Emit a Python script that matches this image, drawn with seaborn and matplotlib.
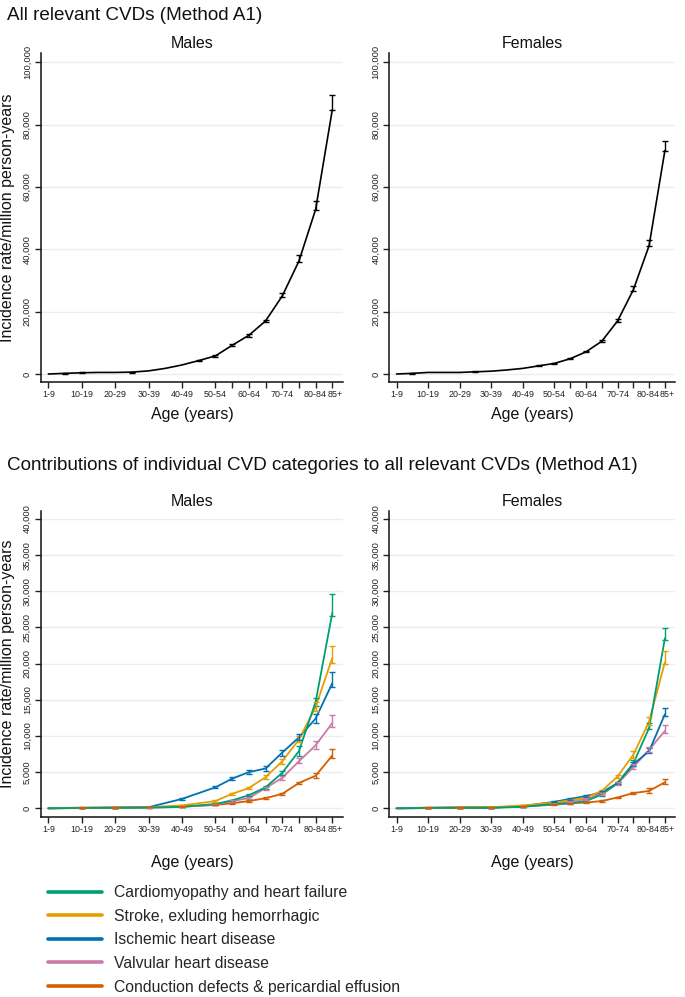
import numpy as np
import pandas as pd
import matplotlib
matplotlib.use("Agg")
import matplotlib.pyplot as plt
import matplotlib.transforms as mtransforms
import seaborn as sns
from matplotlib.ticker import FuncFormatter
from matplotlib.lines import Line2D

nan = np.nan

# ---------------- data ----------------
# x-axis ticks (age groups)
tick_pos = [0, 10, 20, 30, 40, 50, 55, 60, 65, 70, 75, 80, 85]
tick_labels = ["1-9", "10-19", "20-29", "30-39", "40-49", "50-54", "",
               "60-64", "", "70-74", "", "80-84", "85+"]

# Top panels: all relevant CVDs (5-year points)
top_age = [0, 5, 10, 15, 20, 25, 30, 35, 40, 45, 50, 55, 60, 65, 70, 75, 80, 85]
top_m_est = [0, 200, 400, 500, 500, 600, 1000, 1800, 2900, 4300, 5800, 9200, 12400, 17000, 25000, 36200, 52800, 84800]
top_m_lo = [nan, 100, 300, nan, nan, 450, nan, nan, nan, 4100, 5600, 8900, 12000, 16600, 24600, 36000, 52600, 84600]
top_m_hi = [nan, 300, 500, nan, nan, 750, nan, nan, nan, 4500, 6100, 9600, 12800, 17400, 26000, 38100, 55500, 89400]
top_f_est = [0, 200, 500, 500, 500, 700, 900, 1300, 1800, 2600, 3400, 4900, 7100, 10500, 17000, 27000, 41200, 71700]
top_f_lo = [nan, 100, nan, nan, nan, 550, nan, nan, nan, 2450, 3250, 4700, 6900, 10200, 16600, 26700, 41100, 71600]
top_f_hi = [nan, 300, nan, nan, nan, 850, nan, nan, nan, 2750, 3550, 5100, 7300, 10900, 17500, 28300, 42900, 74700]

# Bottom panels: individual CVD categories
bot_age = [0, 10, 20, 30, 40, 50, 55, 60, 65, 70, 75, 80, 85]
categories = ["Cardiomyopathy and heart failure", "Stroke, exluding hemorrhagic",
              "Ischemic heart disease", "Valvular heart disease",
              "Conduction defects & pericardial effusion"]
colors = ["#009E73", "#E69F00", "#0072B2", "#CC79A7", "#D55E00"]

m_cardio_est = [0, 50, 80, 100, 200, 600, 1100, 1800, 2900, 4900, 7900, 14700, 27000]
m_cardio_lo = [nan, 30, 50, 70, 150, 520, 1000, 1650, 2700, 4600, 7300, 14200, 26600]
m_cardio_hi = [nan, 70, 110, 130, 250, 680, 1200, 1950, 3100, 5200, 8600, 15300, 29600]
m_stroke_est = [0, 50, 100, 150, 400, 1000, 2000, 2800, 4300, 6500, 9500, 14000, 20800]
m_stroke_lo = [nan, 30, 70, 120, 330, 900, 1850, 2650, 4050, 6150, 9100, 13400, 20100]
m_stroke_hi = [nan, 70, 130, 180, 470, 1100, 2150, 2950, 4550, 6850, 10000, 14700, 22500]
m_ihd_est = [0, 50, 80, 150, 1300, 2900, 4100, 5000, 5500, 7700, 9800, 12400, 17300]
m_ihd_lo = [nan, 30, 60, 120, 1200, 2800, 3900, 4700, 5200, 7300, 9400, 11800, 16800]
m_ihd_hi = [nan, 70, 100, 180, 1400, 3050, 4350, 5300, 5900, 8100, 10300, 13100, 18800]
m_valv_est = [0, 30, 50, 80, 200, 500, 1000, 1400, 2800, 4200, 6500, 8700, 11800]
m_valv_lo = [nan, 20, 30, 60, 150, 430, 900, 1250, 2600, 3950, 6200, 8200, 11300]
m_valv_hi = [nan, 40, 70, 100, 250, 570, 1100, 1550, 3000, 4450, 6900, 9300, 12900]
m_cond_est = [0, 100, 120, 150, 250, 450, 700, 1000, 1400, 2000, 3500, 4500, 7300]
m_cond_lo = [nan, 70, 90, 120, 200, 400, 620, 900, 1280, 1850, 3300, 4200, 6900]
m_cond_hi = [nan, 130, 150, 180, 300, 500, 780, 1100, 1520, 2150, 3700, 4900, 8200]

f_cardio_est = [0, 50, 80, 80, 200, 600, 700, 1000, 1900, 3500, 6200, 11100, 23500]
f_cardio_lo = [nan, 30, 50, 50, 150, 530, 620, 900, 1750, 3300, 5900, 10900, 23300]
f_cardio_hi = [nan, 70, 110, 110, 250, 670, 780, 1100, 2050, 3700, 6700, 11800, 24900]
f_stroke_est = [0, 50, 100, 150, 400, 800, 1100, 1500, 2400, 4400, 7400, 12000, 20200]
f_stroke_lo = [nan, 30, 70, 120, 340, 720, 1000, 1380, 2250, 4150, 7000, 11500, 20000]
f_stroke_hi = [nan, 70, 130, 180, 460, 880, 1200, 1620, 2550, 4650, 7900, 12600, 21700]
f_ihd_est = [0, 30, 50, 80, 300, 900, 1300, 1700, 2200, 3500, 6100, 7900, 13000]
f_ihd_lo = [nan, 20, 30, 60, 250, 820, 1200, 1550, 2050, 3300, 5800, 7600, 12800]
f_ihd_hi = [nan, 40, 70, 100, 350, 980, 1400, 1850, 2350, 3700, 6400, 8300, 13900]
f_valv_est = [0, 30, 50, 80, 250, 600, 900, 1300, 2000, 3400, 5700, 8100, 10700]
f_valv_lo = [nan, 20, 30, 60, 200, 540, 820, 1180, 1850, 3200, 5400, 7800, 10400]
f_valv_hi = [nan, 40, 70, 100, 300, 660, 980, 1420, 2150, 3600, 6100, 8500, 11500]
f_cond_est = [0, 100, 150, 150, 250, 500, 700, 800, 1000, 1500, 2100, 2400, 3600]
f_cond_lo = [nan, 70, 110, 110, 200, 450, 640, 730, 920, 1400, 1950, 2150, 3400]
f_cond_hi = [nan, 130, 190, 190, 300, 550, 760, 870, 1080, 1600, 2300, 2750, 4000]

males_series = [(m_cardio_est, m_cardio_lo, m_cardio_hi), (m_stroke_est, m_stroke_lo, m_stroke_hi),
                (m_ihd_est, m_ihd_lo, m_ihd_hi), (m_valv_est, m_valv_lo, m_valv_hi),
                (m_cond_est, m_cond_lo, m_cond_hi)]
females_series = [(f_cardio_est, f_cardio_lo, f_cardio_hi), (f_stroke_est, f_stroke_lo, f_stroke_hi),
                  (f_ihd_est, f_ihd_lo, f_ihd_hi), (f_valv_est, f_valv_lo, f_valv_hi),
                  (f_cond_est, f_cond_lo, f_cond_hi)]

# ---------------- style ----------------
sns.set_theme(style="white")
plt.rcParams['font.family'] = ['Liberation Sans', 'DejaVu Sans']

W, H = 685, 997
fig = plt.figure(figsize=(W / 100, H / 100), dpi=100)


def add_ax(l, t, r, b):
    return fig.add_axes([l / W, 1 - b / H, (r - l) / W, (b - t) / H])


def style(ax, yticks, ylim, title):
    ax.set_xlim(-2.3, 88.2)
    ax.set_ylim(*ylim)
    ax.set_xticks(tick_pos)
    ax.set_xticklabels(tick_labels)
    ax.set_yticks(yticks)
    ax.yaxis.set_major_formatter(FuncFormatter(lambda v, p: f"{int(v):,}"))
    ax.tick_params(axis='y', labelsize=6.8, length=4, width=1, pad=2.5, colors='#222222',
                   left=True, direction='out')
    ax.tick_params(axis='x', labelsize=6.4, length=4, width=1, pad=2, colors='#222222',
                   bottom=True, direction='out')
    for t in ax.get_yticklabels():
        t.set_rotation(90)
        t.set_va('center')
        t.set_ha('right')
    # nudge the two crowded last labels apart
    xl = ax.get_xticklabels()
    xl[-1].set_transform(xl[-1].get_transform() +
                         mtransforms.ScaledTranslation(2.6 / 100, 0, fig.dpi_scale_trans))
    xl[-2].set_transform(xl[-2].get_transform() +
                         mtransforms.ScaledTranslation(-0.8 / 100, 0, fig.dpi_scale_trans))
    ax.grid(False)
    ax.yaxis.grid(True, color='#e6eef0', linewidth=1.0)
    ax.set_axisbelow(True)
    for s in ['top', 'right']:
        ax.spines[s].set_visible(False)
    for s in ['left', 'bottom']:
        ax.spines[s].set_color('#111111')
        ax.spines[s].set_linewidth(1.1)
    ax.set_xlabel("")
    ax.set_ylabel("")
    ax.set_title(title, fontsize=11.5, pad=3.5, color='#111111')


def draw_errs(ax, x, est, lo, hi, color):
    d = pd.DataFrame({"x": x, "est": est, "lo": lo, "hi": hi}).dropna()
    ax.errorbar(d["x"], d["est"], yerr=[d["est"] - d["lo"], d["hi"] - d["est"]],
                fmt='none', ecolor=color, elinewidth=1.0, capsize=2.4, capthick=1.0, zorder=3)


# ---------------- top panels ----------------
top_specs = [(add_ax(40.7, 53, 343, 382), top_m_est, top_m_lo, top_m_hi, "Males"),
             (add_ax(389.3, 53, 675, 382), top_f_est, top_f_lo, top_f_hi, "Females")]
for ax, est, lo, hi, title in top_specs:
    df = pd.DataFrame({"age": top_age, "rate": est})
    sns.lineplot(data=df, x="age", y="rate", ax=ax, color="black", linewidth=1.2,
                 errorbar=None, zorder=4)
    draw_errs(ax, top_age, est, lo, hi, "black")
    style(ax, np.arange(0, 100001, 20000), (-2570, 103000), title)

# ---------------- bottom panels ----------------
bot_specs = [(add_ax(40.7, 511, 343, 816.7), males_series, "Males"),
             (add_ax(389.3, 511, 675, 816.7), females_series, "Females")]
palette = dict(zip(categories, colors))
draw_order = categories[::-1]
for ax, series, title in bot_specs:
    rows = []
    for cat, (est, lo, hi) in zip(categories, series):
        for a, v in zip(bot_age, est):
            rows.append({"age": a, "rate": v, "cat": cat})
    df = pd.DataFrame(rows)
    sns.lineplot(data=df, x="age", y="rate", hue="cat", hue_order=draw_order,
                 palette=palette, ax=ax, linewidth=1.3, errorbar=None, legend=False)
    for cat, (est, lo, hi) in zip(categories, series):
        draw_errs(ax, bot_age, est, lo, hi, palette[cat])
    style(ax, np.arange(0, 40001, 5000), (-1160, 41100), title)

# ---------------- texts ----------------
fig.text(7 / W, 1 - 16 / H, "All relevant CVDs (Method A1)", fontsize=13.6,
         ha='left', va='center', color='#111111')
fig.text(7 / W, 1 - 465 / H,
         "Contributions of individual CVD categories to all relevant CVDs (Method A1)",
         fontsize=13.6, ha='left', va='center', color='#111111')
for yc in [(53 + 382) / 2, (511 + 816.7) / 2]:
    fig.text(8 / W, 1 - yc / H, "Incidence rate/million person-years", fontsize=11.5,
             rotation=90, ha='center', va='center', color='#111111')
for xc in [192, 532]:
    for yc in [415, 862]:
        fig.text(xc / W, 1 - yc / H, "Age (years)", fontsize=11.5, ha='center',
                 va='center', color='#111111')

handles = [Line2D([0], [0], color=c, linewidth=2.6) for c in colors]
fig.legend(handles, categories, loc='upper left', bbox_to_anchor=(48 / W, 1 - 885 / H),
           frameon=False, fontsize=11.3, handlelength=3.45, handletextpad=0.75,
           labelspacing=0.55, borderaxespad=0, borderpad=0)

fig.savefig("out.png", dpi=100)
